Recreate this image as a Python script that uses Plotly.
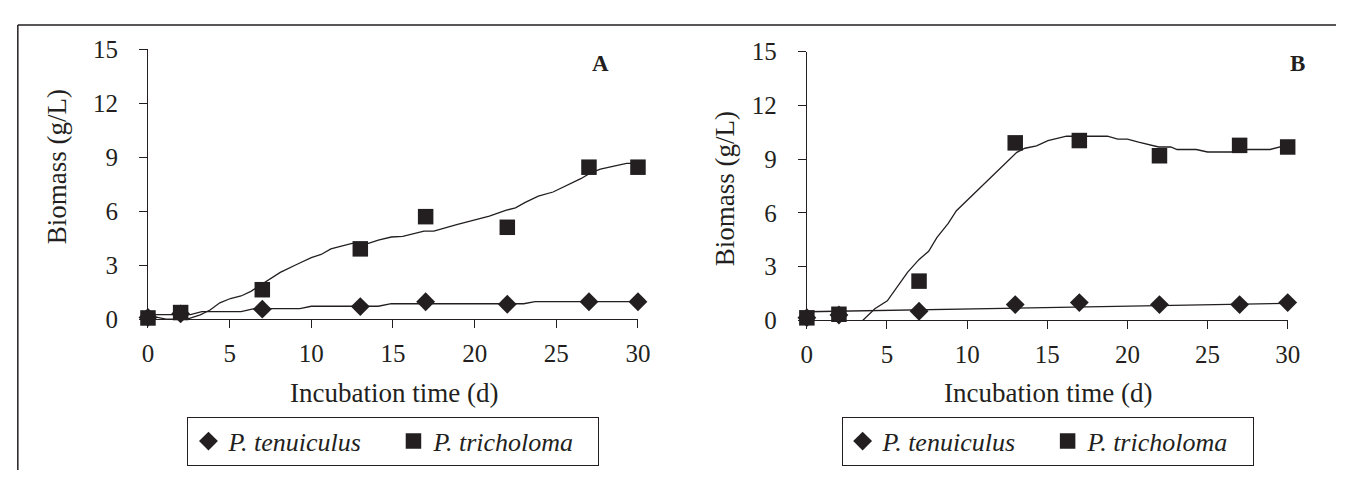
import plotly.graph_objects as go

# ---------------- data ----------------
days = [0, 2, 7, 13, 17, 22, 27, 30]

# Panel A
a_tenu = [0.10, 0.30, 0.56, 0.70, 0.97, 0.83, 0.97, 0.97]
a_tric = [0.07, 0.37, 1.64, 3.91, 5.70, 5.11, 8.45, 8.45]
a_tenu_fit_x = [0, 2.6, 3.3, 5.7, 6.5, 9.3, 10.0, 14.1, 14.9, 23.0, 23.7, 30]
a_tenu_fit_y = [0.25, 0.25, 0.42, 0.42, 0.59, 0.59, 0.72, 0.72, 0.86, 0.86, 0.98, 0.98]
a_tric_fit_x = [0, 1.1, 2.4, 3.2, 3.8, 4.4, 5.05, 5.7, 6.3, 6.9, 7.5, 8.1, 9.1, 10.0,
                10.6, 11.2, 11.9, 12.5, 13.5, 14.1, 14.9, 15.6, 16.9, 17.5, 18.9,
                19.9, 20.9, 21.9, 22.5, 23.1, 23.9, 24.8, 25.7, 26.5, 27.1, 27.7,
                28.6, 29.3, 29.9]
a_tric_fit_y = [0.21, 0.0, 0.0, 0.24, 0.51, 0.91, 1.15, 1.29, 1.55, 1.90, 2.25, 2.60,
                3.04, 3.42, 3.60, 3.91, 4.08, 4.21, 4.21, 4.40, 4.57, 4.60, 4.90, 4.90,
                5.26, 5.49, 5.73, 6.05, 6.19, 6.49, 6.84, 7.07, 7.46, 7.81, 8.13, 8.34,
                8.52, 8.66, 8.66]

# Panel B
b_tenu = [0.15, 0.30, 0.51, 0.88, 0.99, 0.88, 0.88, 0.99]
b_tric = [0.14, 0.34, 2.19, 9.91, 10.04, 9.19, 9.77, 9.68]
b_tenu_fit_x = [0, 30]
b_tenu_fit_y = [0.48, 0.95]
b_tric_fit_x = [0, 0.6, 3.33, 4.24, 5.02, 5.56, 6.28, 6.99, 7.60, 8.11, 8.82, 9.33,
                10.15, 10.96, 11.78, 12.59, 13.10, 13.61, 14.33, 15.04, 16.2, 17.4,
                18.75, 19.4, 20.0, 20.7, 21.95, 22.7, 23.1, 24.3, 25.0, 26.6, 27.5,
                28.9, 29.8, 30.0]
b_tric_fit_y = [0.15, -0.6, -0.14, 0.65, 1.09, 1.80, 2.68, 3.39, 3.86, 4.62, 5.41,
                6.12, 6.83, 7.53, 8.24, 8.94, 9.38, 9.61, 9.74, 10.03, 10.28, 10.28,
                10.28, 10.12, 10.12, 9.95, 9.68, 9.68, 9.54, 9.54, 9.40, 9.40, 9.54,
                9.54, 9.77, 9.80]

x_ticks = [0, 5, 10, 15, 20, 25, 30]
y_ticks = [0, 3, 6, 9, 12, 15]
names = ["<i>P. tenuiculus</i>", "<i>P. tricholoma</i>"]

# ---------------- figure ----------------
W, H = 1349, 484
INK = "#231f20"
FONT = "Liberation Serif"

def px(x):
    return x / W

def py(y):
    return (H - y) / H

fig = go.Figure()

panels = [
    ("x", "y", "legend", a_tenu, a_tric, a_tenu_fit_x, a_tenu_fit_y, a_tric_fit_x, a_tric_fit_y),
    ("x2", "y2", "legend2", b_tenu, b_tric, b_tenu_fit_x, b_tenu_fit_y, b_tric_fit_x, b_tric_fit_y),
]
for xa, ya, lg, tenu, tric, tfx, tfy, rfx, rfy in panels:
    fig.add_trace(go.Scatter(x=tfx, y=tfy, mode="lines", xaxis=xa, yaxis=ya,
                             line=dict(color=INK, width=1.3), showlegend=False, hoverinfo="skip"))
    fig.add_trace(go.Scatter(x=rfx, y=rfy, mode="lines", xaxis=xa, yaxis=ya,
                             line=dict(color=INK, width=1.3), showlegend=False, hoverinfo="skip"))
    fig.add_trace(go.Scatter(x=days, y=tenu, mode="markers", name=names[0], legend=lg,
                             xaxis=xa, yaxis=ya, cliponaxis=False,
                             marker=dict(symbol="diamond", size=14.5, color=INK)))
    fig.add_trace(go.Scatter(x=days, y=tric, mode="markers", name=names[1], legend=lg,
                             xaxis=xa, yaxis=ya, cliponaxis=False,
                             marker=dict(symbol="square", size=15.5, color=INK)))

axis_common = dict(showline=True, linecolor=INK, linewidth=1, ticks="outside", ticklen=8,
                   tickcolor=INK, tickwidth=1, showgrid=False, zeroline=False,
                   tickfont=dict(family=FONT, size=25, color=INK), fixedrange=True)

legend_common = dict(orientation="h", bordercolor=INK, borderwidth=1, bgcolor="white",
                     font=dict(family=FONT, size=26, color=INK), xanchor="center",
                     yanchor="middle", entrywidth=160, entrywidthmode="pixels")

fig.update_layout(
    width=W, height=H,
    margin=dict(l=0, r=0, t=0, b=0),
    paper_bgcolor="white", plot_bgcolor="white",
    xaxis=dict(domain=[px(144), px(641)], range=[0, 30], tickvals=x_ticks,
               anchor="y", ticklabelstandoff=4, **axis_common),
    yaxis=dict(domain=[py(324.3), py(38.5)], range=[0, 15], tickvals=y_ticks,
               anchor="x", ticklabelstandoff=16, **axis_common),
    xaxis2=dict(domain=[px(812.3), px(1300)], range=[0, 30], tickvals=x_ticks,
                anchor="y2", ticklabelstandoff=4, **axis_common),
    yaxis2=dict(domain=[py(325.5), py(41)], range=[0, 15], tickvals=y_ticks,
                anchor="x2", ticklabelstandoff=16, **axis_common),
    legend=dict(x=px(393), y=py(453.5), **legend_common),
    legend2=dict(x=px(1056.5), y=py(453.5), **legend_common),
    showlegend=True,
)

ann_font = dict(family=FONT, size=27, color=INK)
annotations = [
    dict(text="Incubation time (d)", x=px(394), y=py(402)),
    dict(text="Incubation time (d)", x=px(1057), y=py(402)),
    dict(text="Biomass (g/L)", x=px(52), y=py(163), textangle=-90),
    dict(text="Biomass (g/L)", x=px(729), y=py(186), textangle=-90),
]
for a in annotations:
    fig.add_annotation(xref="paper", yref="paper", showarrow=False, font=ann_font,
                       xanchor="center", yanchor="middle", **a)
for lab, xx in (("A", 603), ("B", 1310)):
    fig.add_annotation(xref="paper", yref="paper", showarrow=False, text="<b>%s</b>" % lab,
                       x=px(xx), y=py(54), xanchor="center", yanchor="middle",
                       font=dict(family=FONT, size=23, color=INK))

# outer frame (top and left edges)
fig.add_shape(type="line", xref="paper", yref="paper", x0=px(12), x1=1, y0=py(12.7), y1=py(12.7),
              line=dict(color=INK, width=1.5))
fig.add_shape(type="line", xref="paper", yref="paper", x0=px(12), x1=px(12), y0=0, y1=py(12.7),
              line=dict(color=INK, width=1.5))

fig.write_html("out.html", config={"displayModeBar": False},
               post_script="document.body.style.margin='0';document.body.style.overflow='hidden';")
